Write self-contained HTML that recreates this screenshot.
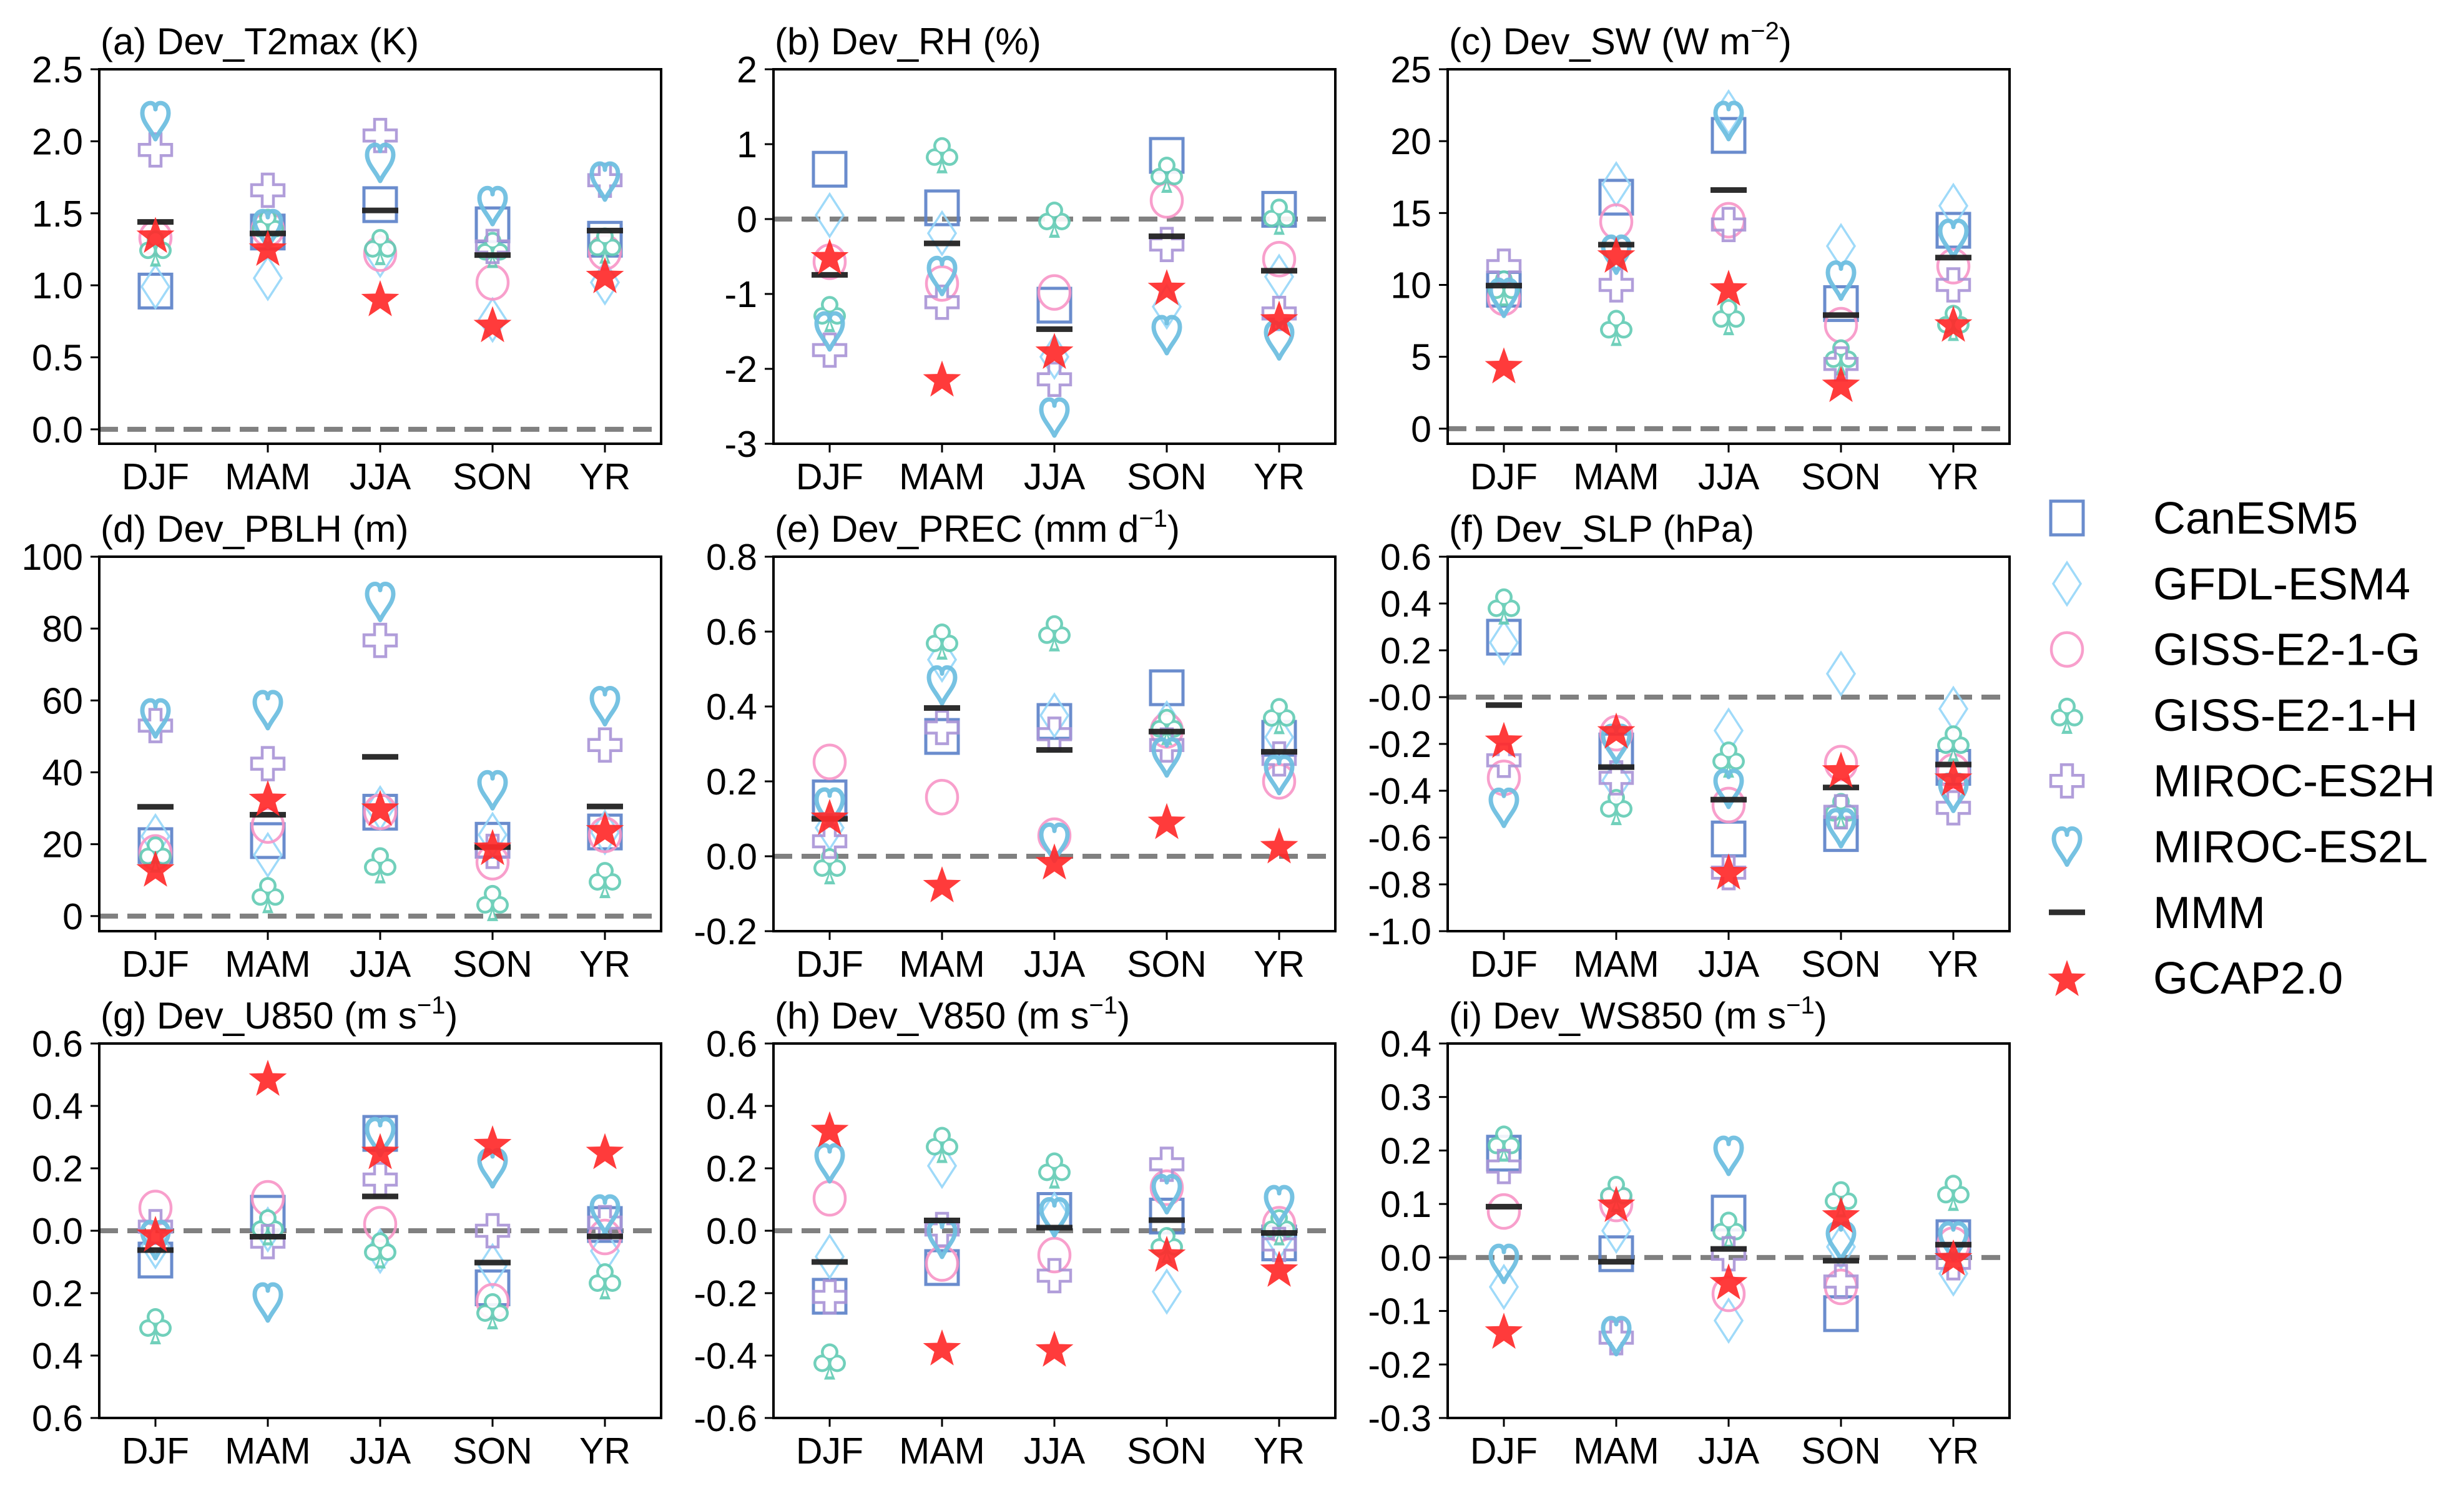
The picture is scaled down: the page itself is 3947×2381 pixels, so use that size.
<!DOCTYPE html>
<html><head><meta charset="utf-8">
<style>
html,body{margin:0;padding:0;background:#fff;}
svg{display:block;font-family:"Liberation Sans",Arial,sans-serif;}
</style></head>
<body>
<svg id="fig" width="3947" height="2381" viewBox="0 0 3947 2381" xmlns="http://www.w3.org/2000/svg"></svg>
<script>
const categories = ["DJF","MAM","JJA","SON","YR"];
const models = ["CanESM5","GFDL-ESM4","GISS-E2-1-G","GISS-E2-1-H","MIROC-ES2H","MIROC-ES2L","MMM","GCAP2.0"];

// (a) T2max
const a_CanESM5=[0.96,1.37,1.56,1.42,1.32];
const a_GFDL=[0.99,1.05,1.21,0.76,1.02];
const a_GISSG=[1.33,1.39,1.22,1.02,1.23];
const a_GISSH=[1.26,1.41,1.27,1.25,1.28];
const a_ES2H=[1.94,1.66,2.04,1.27,1.73];
const a_ES2L=[2.14,1.39,1.85,1.55,1.72];
const a_MMM=[1.44,1.36,1.52,1.21,1.38];
const a_GCAP=[1.35,1.26,0.91,0.73,1.07];
const a_ticks=["0.0","0.5","1.0","1.5","2.0","2.5"];
// (b) RH
const b_CanESM5=[0.665,0.15,-1.15,0.85,0.13];
const b_GFDL=[0.05,-0.19,-1.84,-1.17,-0.77];
const b_GISSG=[-0.57,-0.86,-0.98,0.25,-0.535];
const b_GISSH=[-1.26,0.86,0.0,0.6,0.04];
const b_ES2H=[-1.75,-1.11,-2.14,-0.34,-1.26];
const b_ES2L=[-1.5,-0.76,-2.65,-1.55,-1.62];
const b_MMM=[-0.745,-0.325,-1.47,-0.23,-0.69];
const b_GCAP=[-0.5,-2.13,-1.76,-0.91,-1.33];
const b_ticks=["-3","-2","-1","0","1","2"];
// (c) SW
const c_CanESM5=[9.7,16.1,20.4,8.7,13.8];
const c_GFDL=[9.4,17.0,22.0,12.7,15.5];
const c_GISSG=[9.1,14.4,14.5,7.2,11.3];
const c_GISSH=[9.8,7.05,7.8,5.0,7.4];
const c_ES2H=[11.3,10.0,14.2,4.5,10.0];
const c_ES2L=[9.1,12.1,21.4,10.3,13.2];
const c_MMM=[9.95,12.8,16.6,7.9,11.9];
const c_GCAP=[4.4,12.1,9.8,3.1,7.3];
const c_ticks=["0","5","10","15","20","25"];
// (d) PBLH
const d_CanESM5=[19.6,21,28.9,21.1,23.4];
const d_GFDL=[22.2,17,30,22.6,23.3];
const d_GISSG=[17.7,25.2,29,15,22.6];
const d_GISSH=[17.3,6,14.3,3.8,10.2];
const d_ES2H=[53,42.4,76.7,18,47.6];
const d_ES2L=[55,57.3,87.4,35,58.4];
const d_MMM=[30.4,28.2,44.3,19.2,30.5];
const d_GCAP=[13.2,32.8,30.1,19.2,24.1];
const d_ticks=["0","20","40","60","80","100"];
// (e) PREC
const e_CanESM5=[0.156,0.32,0.36,0.45,0.315];
const e_GFDL=[0.076,0.525,0.376,0.355,0.318];
const e_GISSG=[0.252,0.158,0.055,0.336,0.2];
const e_GISSH=[-0.025,0.575,0.597,0.347,0.376];
const e_ES2H=[0.04,0.344,0.326,0.297,0.26];
const e_ES2L=[0.13,0.456,0.036,0.264,0.217];
const e_MMM=[0.10,0.396,0.284,0.333,0.279];
const e_GCAP=[0.105,-0.075,-0.014,0.094,0.029];
const e_ticks=["-0.2","0.0","0.2","0.4","0.6","0.8"];
// (f) SLP
const f_CanESM5=[0.256,-0.23,-0.606,-0.583,-0.3];
const f_GFDL=[0.233,-0.357,-0.143,0.1,-0.05];
const f_GISSG=[-0.345,-0.154,-0.461,-0.282,-0.317];
const f_GISSH=[0.39,-0.467,-0.264,-0.484,-0.195];
const f_ES2H=[-0.27,-0.345,-0.75,-0.49,-0.473];
const f_ES2L=[-0.473,-0.2,-0.392,-0.56,-0.409];
const f_MMM=[-0.034,-0.299,-0.438,-0.386,-0.288];
const f_GCAP=[-0.183,-0.143,-0.745,-0.31,-0.345];
const f_ticks=["-1.0","-0.8","-0.6","-0.4","-0.2","-0.0","0.2","0.4","0.6"];
// (g) U850
const g_CanESM5=[-0.094,0.056,0.312,-0.183,0.02];
const g_GFDL=[-0.05,0.004,-0.065,-0.113,-0.065];
const g_GISSG=[0.073,0.104,0.021,-0.226,-0.02];
const g_GISSH=[-0.304,0.013,-0.061,-0.256,-0.16];
const g_ES2H=[0.013,-0.035,0.164,0.0,0.026];
const g_ES2L=[-0.03,-0.23,0.3,0.2,0.052];
const g_MMM=[-0.062,-0.019,0.11,-0.102,-0.018];
const g_GCAP=[-0.01,0.49,0.255,0.28,0.255];
const g_ticks=["0.6","0.4","0.2","0.0","0.2","0.4","0.6"];
// (h) V850
const h_CanESM5=[-0.21,-0.118,0.065,0.047,-0.039];
const h_GFDL=[-0.083,0.208,0.052,-0.195,-0.022];
const h_GISSG=[0.104,-0.105,-0.078,0.138,0.021];
const h_GISSH=[-0.417,0.277,0.195,-0.044,0.013];
const h_ES2H=[-0.212,0.004,-0.144,0.213,-0.044];
const h_ES2L=[0.216,-0.026,0.043,0.117,0.082];
const h_MMM=[-0.1,0.033,0.01,0.034,-0.007];
const h_GCAP=[0.325,-0.374,-0.378,-0.074,-0.122];
const h_ticks=["-0.6","-0.4","-0.2","0.0","0.2","0.4","0.6"];
// (i) WS850
const i_CanESM5=[0.195,0.007,0.083,-0.105,0.037];
const i_GFDL=[-0.055,0.05,-0.118,0.02,-0.03];
const i_GISSG=[0.086,0.1,-0.068,-0.055,0.024];
const i_GISSH=[0.214,0.12,0.053,0.11,0.122];
const i_ES2H=[0.17,-0.15,0.007,-0.045,-0.01];
const i_ES2L=[-0.012,-0.147,0.19,0.03,0.03];
const i_MMM=[0.095,-0.008,0.016,-0.006,0.024];
const i_GCAP=[-0.137,0.1,-0.045,0.08,0.0];
const i_ticks=["-0.3","-0.2","-0.1","0.0","0.1","0.2","0.3","0.4"];

const NS="http://www.w3.org/2000/svg";
const svg=document.getElementById('fig');
function mk(tag,attrs,parent){const e=document.createElementNS(NS,tag);for(const k in attrs)e.setAttribute(k,attrs[k]);(parent||svg).appendChild(e);return e;}

const COL={sq:"#5a80c8",di:"#95d6f8",ci:"#f795c6",cl:"#62ccb4",pl:"#a893d6",he:"#6fbfe0",mmm:"#222222",st:"#ff2a2a"};
const kinds=["sq","di","ci","cl","pl","he","mmm","st"];

function drawMarker(g,kind,x,y){
  let e;
  if(kind==="sq"){e=mk('rect',{x:x-26,y:y-27,width:52,height:54,fill:"none",stroke:COL.sq,"stroke-width":5,opacity:0.9},g);}
  else if(kind==="di"){e=mk('polygon',{points:`${x},${y-34} ${x+22},${y} ${x},${y+34} ${x-22},${y}`,fill:"none",stroke:COL.di,"stroke-width":3.5,opacity:0.9},g);}
  else if(kind==="ci"){e=mk('ellipse',{cx:x,cy:y,rx:25,ry:27,fill:"none",stroke:COL.ci,"stroke-width":4.5,opacity:0.9},g);}
  else if(kind==="cl"){
    e=mk('g',{opacity:0.9},g);
    const parts=[[0,-14,11.5],[-12,4,11.5],[12,4,11.5]];
    parts.forEach(p=>mk('circle',{cx:x+p[0],cy:y+p[1],r:p[2]+2.5,fill:COL.cl},e));
    mk('polygon',{points:`${x},${y+8} ${x-9},${y+30} ${x+9},${y+30}`,fill:COL.cl},e);
    parts.forEach(p=>mk('circle',{cx:x+p[0],cy:y+p[1],r:p[2]-2,fill:"#fff"},e));
    mk('polygon',{points:`${x},${y+14} ${x-3.5},${y+25} ${x+3.5},${y+25}`,fill:"#fff"},e);
  }
  else if(kind==="pl"){const a=9,b=26;
    e=mk('polygon',{points:`${x-a},${y-b} ${x+a},${y-b} ${x+a},${y-a} ${x+b},${y-a} ${x+b},${y+a} ${x+a},${y+a} ${x+a},${y+b} ${x-a},${y+b} ${x-a},${y+a} ${x-b},${y+a} ${x-b},${y-a} ${x-a},${y-a}`,fill:"none",stroke:COL.pl,"stroke-width":4.5,opacity:0.9},g);}
  else if(kind==="he"){
    e=mk('path',{d:`M${x},${y+29} C${x-8},${y+12} ${x-21},${y+2} ${x-21},${y-13} C${x-21},${y-24} ${x-14},${y-29} ${x-8},${y-29} C${x-3},${y-29} ${x},${y-25} ${x},${y-19} C${x},${y-25} ${x+3},${y-29} ${x+8},${y-29} C${x+14},${y-29} ${x+21},${y-24} ${x+21},${y-13} C${x+21},${y+2} ${x+8},${y+12} ${x},${y+29} Z`,fill:"none",stroke:COL.he,"stroke-width":7,"stroke-linejoin":"round",opacity:0.95},g);}
  else if(kind==="mmm"){e=mk('rect',{x:x-29,y:y-4.5,width:58,height:9,fill:COL.mmm,opacity:0.95},g);}
  else if(kind==="st"){const pts=[];for(let k=0;k<10;k++){const r=k%2?13:32;const ang=-Math.PI/2+k*Math.PI/5;pts.push((x+r*Math.cos(ang)).toFixed(1)+","+(y+3+r*Math.sin(ang)).toFixed(1));}
    e=mk('polygon',{points:pts.join(" "),fill:COL.st,opacity:0.92},g);}
  return e;
}

const panels=[
 {id:"a",title:"(a) Dev_T2max (K)",sup:null,col:0,row:0,ymin:-0.1,ymax:2.5,tv:[0,0.5,1,1.5,2,2.5],tl:a_ticks,series:[a_CanESM5,a_GFDL,a_GISSG,a_GISSH,a_ES2H,a_ES2L,a_MMM,a_GCAP]},
 {id:"b",title:"(b) Dev_RH (%)",sup:null,col:1,row:0,ymin:-3,ymax:2,tv:[-3,-2,-1,0,1,2],tl:b_ticks,series:[b_CanESM5,b_GFDL,b_GISSG,b_GISSH,b_ES2H,b_ES2L,b_MMM,b_GCAP]},
 {id:"c",title:"(c) Dev_SW (W m",sup:"−2",tail:")",col:2,row:0,ymin:-1.05,ymax:25,tv:[0,5,10,15,20,25],tl:c_ticks,series:[c_CanESM5,c_GFDL,c_GISSG,c_GISSH,c_ES2H,c_ES2L,c_MMM,c_GCAP]},
 {id:"d",title:"(d) Dev_PBLH (m)",sup:null,col:0,row:1,ymin:-4.2,ymax:100,tv:[0,20,40,60,80,100],tl:d_ticks,series:[d_CanESM5,d_GFDL,d_GISSG,d_GISSH,d_ES2H,d_ES2L,d_MMM,d_GCAP]},
 {id:"e",title:"(e) Dev_PREC (mm d",sup:"−1",tail:")",col:1,row:1,ymin:-0.2,ymax:0.8,tv:[-0.2,0,0.2,0.4,0.6,0.8],tl:e_ticks,series:[e_CanESM5,e_GFDL,e_GISSG,e_GISSH,e_ES2H,e_ES2L,e_MMM,e_GCAP]},
 {id:"f",title:"(f) Dev_SLP (hPa)",sup:null,col:2,row:1,ymin:-1,ymax:0.6,tv:[-1,-0.8,-0.6,-0.4,-0.2,0,0.2,0.4,0.6],tl:f_ticks,series:[f_CanESM5,f_GFDL,f_GISSG,f_GISSH,f_ES2H,f_ES2L,f_MMM,f_GCAP]},
 {id:"g",title:"(g) Dev_U850 (m s",sup:"−1",tail:")",col:0,row:2,ymin:-0.6,ymax:0.6,tv:[0.6,0.4,0.2,0,-0.2,-0.4,-0.6],tl:g_ticks,series:[g_CanESM5,g_GFDL,g_GISSG,g_GISSH,g_ES2H,g_ES2L,g_MMM,g_GCAP]},
 {id:"h",title:"(h) Dev_V850 (m s",sup:"−1",tail:")",col:1,row:2,ymin:-0.6,ymax:0.6,tv:[-0.6,-0.4,-0.2,0,0.2,0.4,0.6],tl:h_ticks,series:[h_CanESM5,h_GFDL,h_GISSG,h_GISSH,h_ES2H,h_ES2L,h_MMM,h_GCAP]},
 {id:"i",title:"(i) Dev_WS850 (m s",sup:"−1",tail:")",col:2,row:2,ymin:-0.3,ymax:0.4,tv:[-0.3,-0.2,-0.1,0,0.1,0.2,0.3,0.4],tl:i_ticks,series:[i_CanESM5,i_GFDL,i_GISSG,i_GISSH,i_ES2H,i_ES2L,i_MMM,i_GCAP]}
];

const W=900,H=600;
panels.forEach(p=>{
  const L=159+p.col*1080, T=111+Math.round(p.row*780.5);
  const g=mk('g',{});
  
  
  const yS=v=>T+H*(p.ymax-v)/(p.ymax-p.ymin);
  const xS=i=>L+90+180*i;
  const t=mk('text',{x:L+2,y:T-24,"font-size":60,fill:"#000"},g);
  
  
  t.appendChild(document.createTextNode(p.title));
  if(p.sup){const s=mk('tspan',{dy:-24,"font-size":40},t);s.textContent=p.sup;const r=mk('tspan',{dy:24},t);r.textContent=p.tail;}
  const z=mk('line',{x1:L,x2:L+W,y1:yS(0),y2:yS(0),stroke:"#808080","stroke-width":8,"stroke-dasharray":"30,15"},g);
  
  
  p.series.forEach((arr,si)=>{
    const sg=mk('g',{},g);
    
    
    arr.forEach((v,ci)=>{
      const m=drawMarker(sg,kinds[si],xS(ci),yS(v));
      
      
    });
  });
  const fr=mk('rect',{x:L,y:T,width:W,height:H,fill:"none",stroke:"#000","stroke-width":4},g);
  
  
  p.tv.forEach((v,k)=>{
    const y=yS(v);
    mk('line',{x1:L-14,x2:L,y1:y,y2:y,stroke:"#000","stroke-width":3},g);
    const tl=mk('text',{x:L-26,y:y+21,"font-size":59,"text-anchor":"end",fill:"#000"},g);
    
    
    tl.textContent=p.tl[k];
  });
  categories.forEach((c,ci)=>{
    const x=xS(ci);
    mk('line',{x1:x,x2:x,y1:T+H,y2:T+H+14,stroke:"#000","stroke-width":3},g);
    const tl=mk('text',{x:x,y:T+H+73,"font-size":59,"text-anchor":"middle",fill:"#000"},g);
    
    
    tl.textContent=c;
  });
});

const lg=mk('g',{});


models.forEach((m,k)=>{
  const y=830+105.3*k;
  const eg=mk('g',{},lg);
  
  
  drawMarker(eg,kinds[k],3311,y);
  const t=mk('text',{x:3449,y:y+25,"font-size":72,fill:"#000"},eg);
  t.textContent=m;
});
</script>
</body></html>
